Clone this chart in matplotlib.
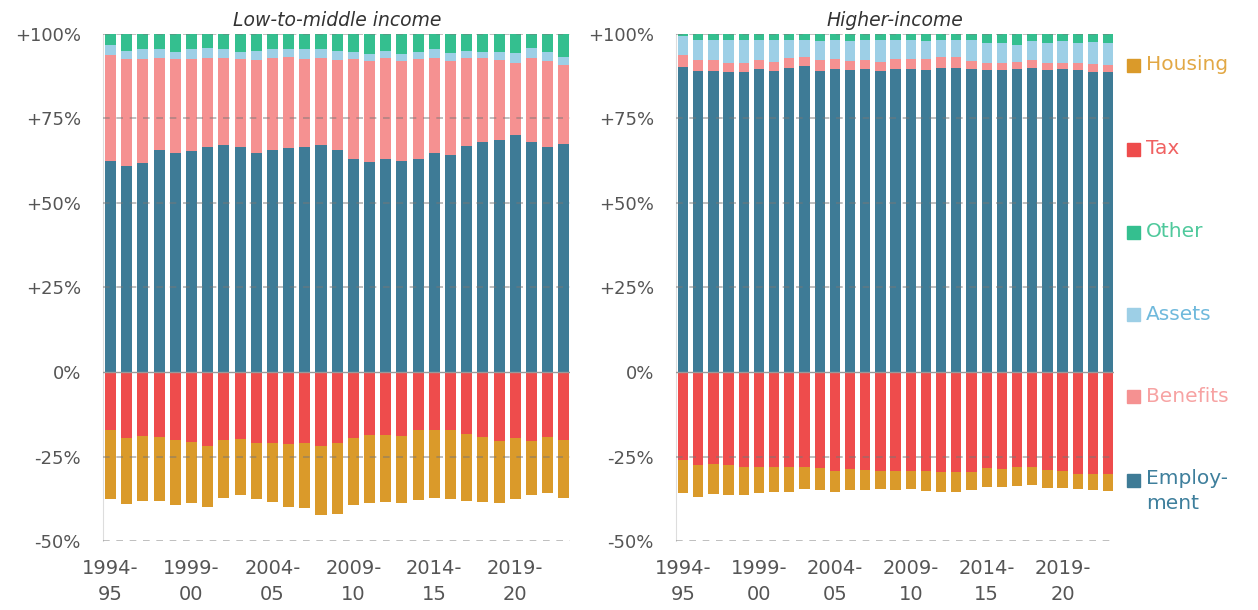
import matplotlib.pyplot as plt

years = ["1994-\n95", "1995-\n96", "1996-\n97", "1997-\n98", "1998-\n99", "1999-\n00",
         "2000-\n01", "2001-\n02", "2002-\n03", "2003-\n04", "2004-\n05", "2005-\n06",
         "2006-\n07", "2007-\n08", "2008-\n09", "2009-\n10", "2010-\n11", "2011-\n12",
         "2012-\n13", "2013-\n14", "2014-\n15", "2015-\n16", "2016-\n17", "2017-\n18",
         "2018-\n19", "2019-\n20", "2020-\n21", "2021-\n22", "2022-\n23"]

# Low-to-middle income (per cent of gross income)
low_employment = [62.4, 61.0, 61.9, 65.6, 64.8, 65.3, 66.7, 67.1, 66.5, 64.8, 65.6, 66.4, 66.6, 67.1, 65.8,
                  63.0, 62.0, 63.0, 62.4, 63.0, 64.8, 64.3, 66.8, 68.0, 68.5, 70.2, 68.1, 66.6, 67.5]
low_benefits = [31.4, 31.5, 30.6, 27.4, 27.7, 27.2, 26.3, 25.9, 26.0, 27.5, 27.2, 26.9, 25.9, 25.9, 26.5,
                29.5, 30.0, 30.0, 29.6, 29.5, 28.2, 27.7, 26.0, 24.8, 23.8, 21.3, 24.9, 25.4, 23.3]
low_assets = [2.9, 2.6, 3.2, 2.6, 2.3, 3.0, 2.8, 2.5, 2.3, 2.8, 2.7, 2.2, 3.0, 2.5, 2.7,
              2.2, 2.1, 2.1, 2.1, 2.3, 2.5, 2.5, 2.3, 2.0, 2.5, 2.8, 2.8, 2.8, 2.5]
low_other = [3.3, 4.9, 4.3, 4.4, 5.2, 4.5, 4.2, 4.5, 5.2, 4.9, 4.5, 4.5, 4.5, 4.5, 5.0,
             5.3, 5.9, 4.9, 5.9, 5.2, 4.5, 5.5, 4.9, 5.2, 5.2, 5.7, 4.2, 5.2, 6.7]
low_tax = [-17.2, -19.5, -19.0, -19.2, -20.0, -20.8, -21.8, -20.0, -19.9, -21.0, -20.9, -21.4, -21.0, -21.8, -21.0,
           -19.5, -18.7, -18.7, -19.0, -17.2, -17.2, -17.2, -18.2, -19.2, -20.4, -19.6, -20.4, -19.2, -20.0]
low_housing = [-20.5, -19.6, -19.2, -19.1, -19.2, -17.9, -18.2, -17.3, -16.4, -16.7, -17.6, -18.5, -19.3, -20.4, -21.1,
               -19.7, -20.0, -19.9, -19.9, -20.7, -20.2, -20.5, -20.0, -19.2, -18.4, -18.1, -16.0, -16.5, -17.3]

# Higher-income
high_employment = [90.3, 89.1, 89.1, 88.7, 88.7, 89.5, 89.1, 90.0, 90.4, 89.1, 89.5, 89.2, 89.6, 89.1, 89.6,
                   89.6, 89.3, 90.0, 90.0, 89.6, 89.2, 89.2, 89.5, 89.9, 89.2, 89.6, 89.2, 88.7, 88.7]
high_benefits = [3.5, 3.2, 3.2, 2.8, 2.8, 2.7, 2.7, 2.9, 2.7, 3.3, 3.1, 2.9, 2.7, 2.7, 3.1,
                 3.1, 3.3, 3.2, 3.1, 2.3, 2.3, 2.1, 2.3, 2.4, 2.1, 1.7, 2.3, 2.3, 2.0]
high_assets = [5.7, 5.9, 5.9, 6.7, 6.7, 6.0, 6.4, 5.3, 5.1, 5.6, 5.6, 5.9, 5.9, 6.4, 5.5,
               5.5, 5.2, 5.0, 5.1, 6.3, 5.9, 6.1, 5.0, 5.5, 5.9, 6.5, 5.9, 6.6, 6.5]
high_other = [0.5, 1.8, 1.8, 1.8, 1.8, 1.8, 1.8, 1.8, 1.8, 2.0, 1.8, 2.0, 1.8, 1.8, 1.8,
              1.8, 2.2, 1.8, 1.8, 1.8, 2.6, 2.6, 3.2, 2.2, 2.8, 2.2, 2.6, 2.4, 2.8]
high_tax = [-25.9, -27.4, -27.2, -27.4, -28.0, -28.1, -28.1, -28.0, -28.1, -28.5, -29.2, -28.7, -29.0, -29.2, -29.2,
            -29.2, -29.2, -29.6, -29.6, -29.5, -28.5, -28.6, -28.2, -28.1, -29.1, -29.2, -30.1, -30.2, -30.2]
high_housing = [-9.9, -9.6, -8.9, -9.0, -8.3, -7.8, -7.4, -7.4, -6.5, -6.4, -6.2, -6.3, -6.0, -5.4, -5.7,
                -5.3, -5.9, -5.8, -5.8, -5.4, -5.4, -5.5, -5.5, -5.4, -5.2, -5.1, -4.6, -4.7, -4.9]

C_EMP = "#3e7b96"
C_BEN = "#f59191"
C_ASS = "#9dcfe6"
C_OTH = "#34bf8f"
C_TAX = "#ee4c4c"
C_HOU = "#da9a2a"

plt.rcParams['font.family'] = ['DejaVu Sans']

fig = plt.figure(figsize=(12.58, 6.10), dpi=100)
axL = fig.add_axes([0.0819, 0.1131, 0.3715, 0.8312])
axR = fig.add_axes([0.5374, 0.1131, 0.3483, 0.8312])


def draw(ax, emp, ben, ass, oth, tax, hou, title):
    x = list(range(len(years)))
    w = 0.68
    b1 = emp
    b2 = [a + b for a, b in zip(b1, ben)]
    b3 = [a + b for a, b in zip(b2, ass)]
    ax.bar(x, emp, w, color=C_EMP, zorder=2)
    ax.bar(x, ben, w, bottom=b1, color=C_BEN, zorder=2)
    ax.bar(x, ass, w, bottom=b2, color=C_ASS, zorder=2)
    ax.bar(x, oth, w, bottom=b3, color=C_OTH, zorder=2)
    ax.bar(x, tax, w, color=C_TAX, zorder=2)
    ax.bar(x, hou, w, bottom=tax, color=C_HOU, zorder=2)

    for v in [100, 75, 50, 25, -25, -50]:
        ax.axhline(v, color="#777777", lw=1.2, ls=(0, (4, 4)), alpha=0.55, zorder=3)
    ax.axhline(0, color="#999999", lw=1.0, zorder=3)

    ax.set_xlim(-0.46, 28.4)
    ax.set_ylim(-50, 100)
    ax.set_yticks([100, 75, 50, 25, 0, -25, -50])
    ax.set_yticklabels(["+100%", "+75%", "+50%", "+25%", "0%", "-25%", "-50%"])
    ax.set_xticks(x[::5])
    ax.set_xticklabels(years[::5], linespacing=1.45)
    ax.tick_params(axis="y", length=0, labelsize=13, colors="#555555", pad=16)
    ax.tick_params(axis="x", length=0, labelsize=14, colors="#555555", pad=13)
    for s in ["top", "right", "bottom"]:
        ax.spines[s].set_visible(False)
    ax.spines["left"].set_color("#dddddd")
    ax.set_title(title, fontsize=13.5, style="italic", color="#333333", pad=6)


draw(axL, low_employment, low_benefits, low_assets, low_other, low_tax, low_housing, "Low-to-middle income")
draw(axR, high_employment, high_benefits, high_assets, high_other, high_tax, high_housing, "Higher-income")

legend = [("Housing", C_HOU, "#e2a845", 65), ("Tax", C_TAX, "#f06262", 149),
          ("Other", C_OTH, "#4fc99c", 232), ("Assets", C_ASS, "#6fb9dc", 314),
          ("Benefits", C_BEN, "#f7a3a3", 396), ("Employ-\nment", C_EMP, "#3e7f9c", 480)]
for name, c, tc, ypx in legend:
    fy = 1 - ypx / 610
    fig.patches.append(plt.Rectangle((1127 / 1258, fy - 7 / 610), 13 / 1258, 13 / 610,
                                     transform=fig.transFigure, color=c))
    if "\n" in name:
        fig.text(1146 / 1258, fy + 11 / 610, name, fontsize=14.5, color=tc, va="top", ha="left",
                 linespacing=1.4)
    else:
        fig.text(1146 / 1258, fy, name, fontsize=14.5, color=tc, va="center", ha="left")

fig.savefig("out.png", dpi=100)
